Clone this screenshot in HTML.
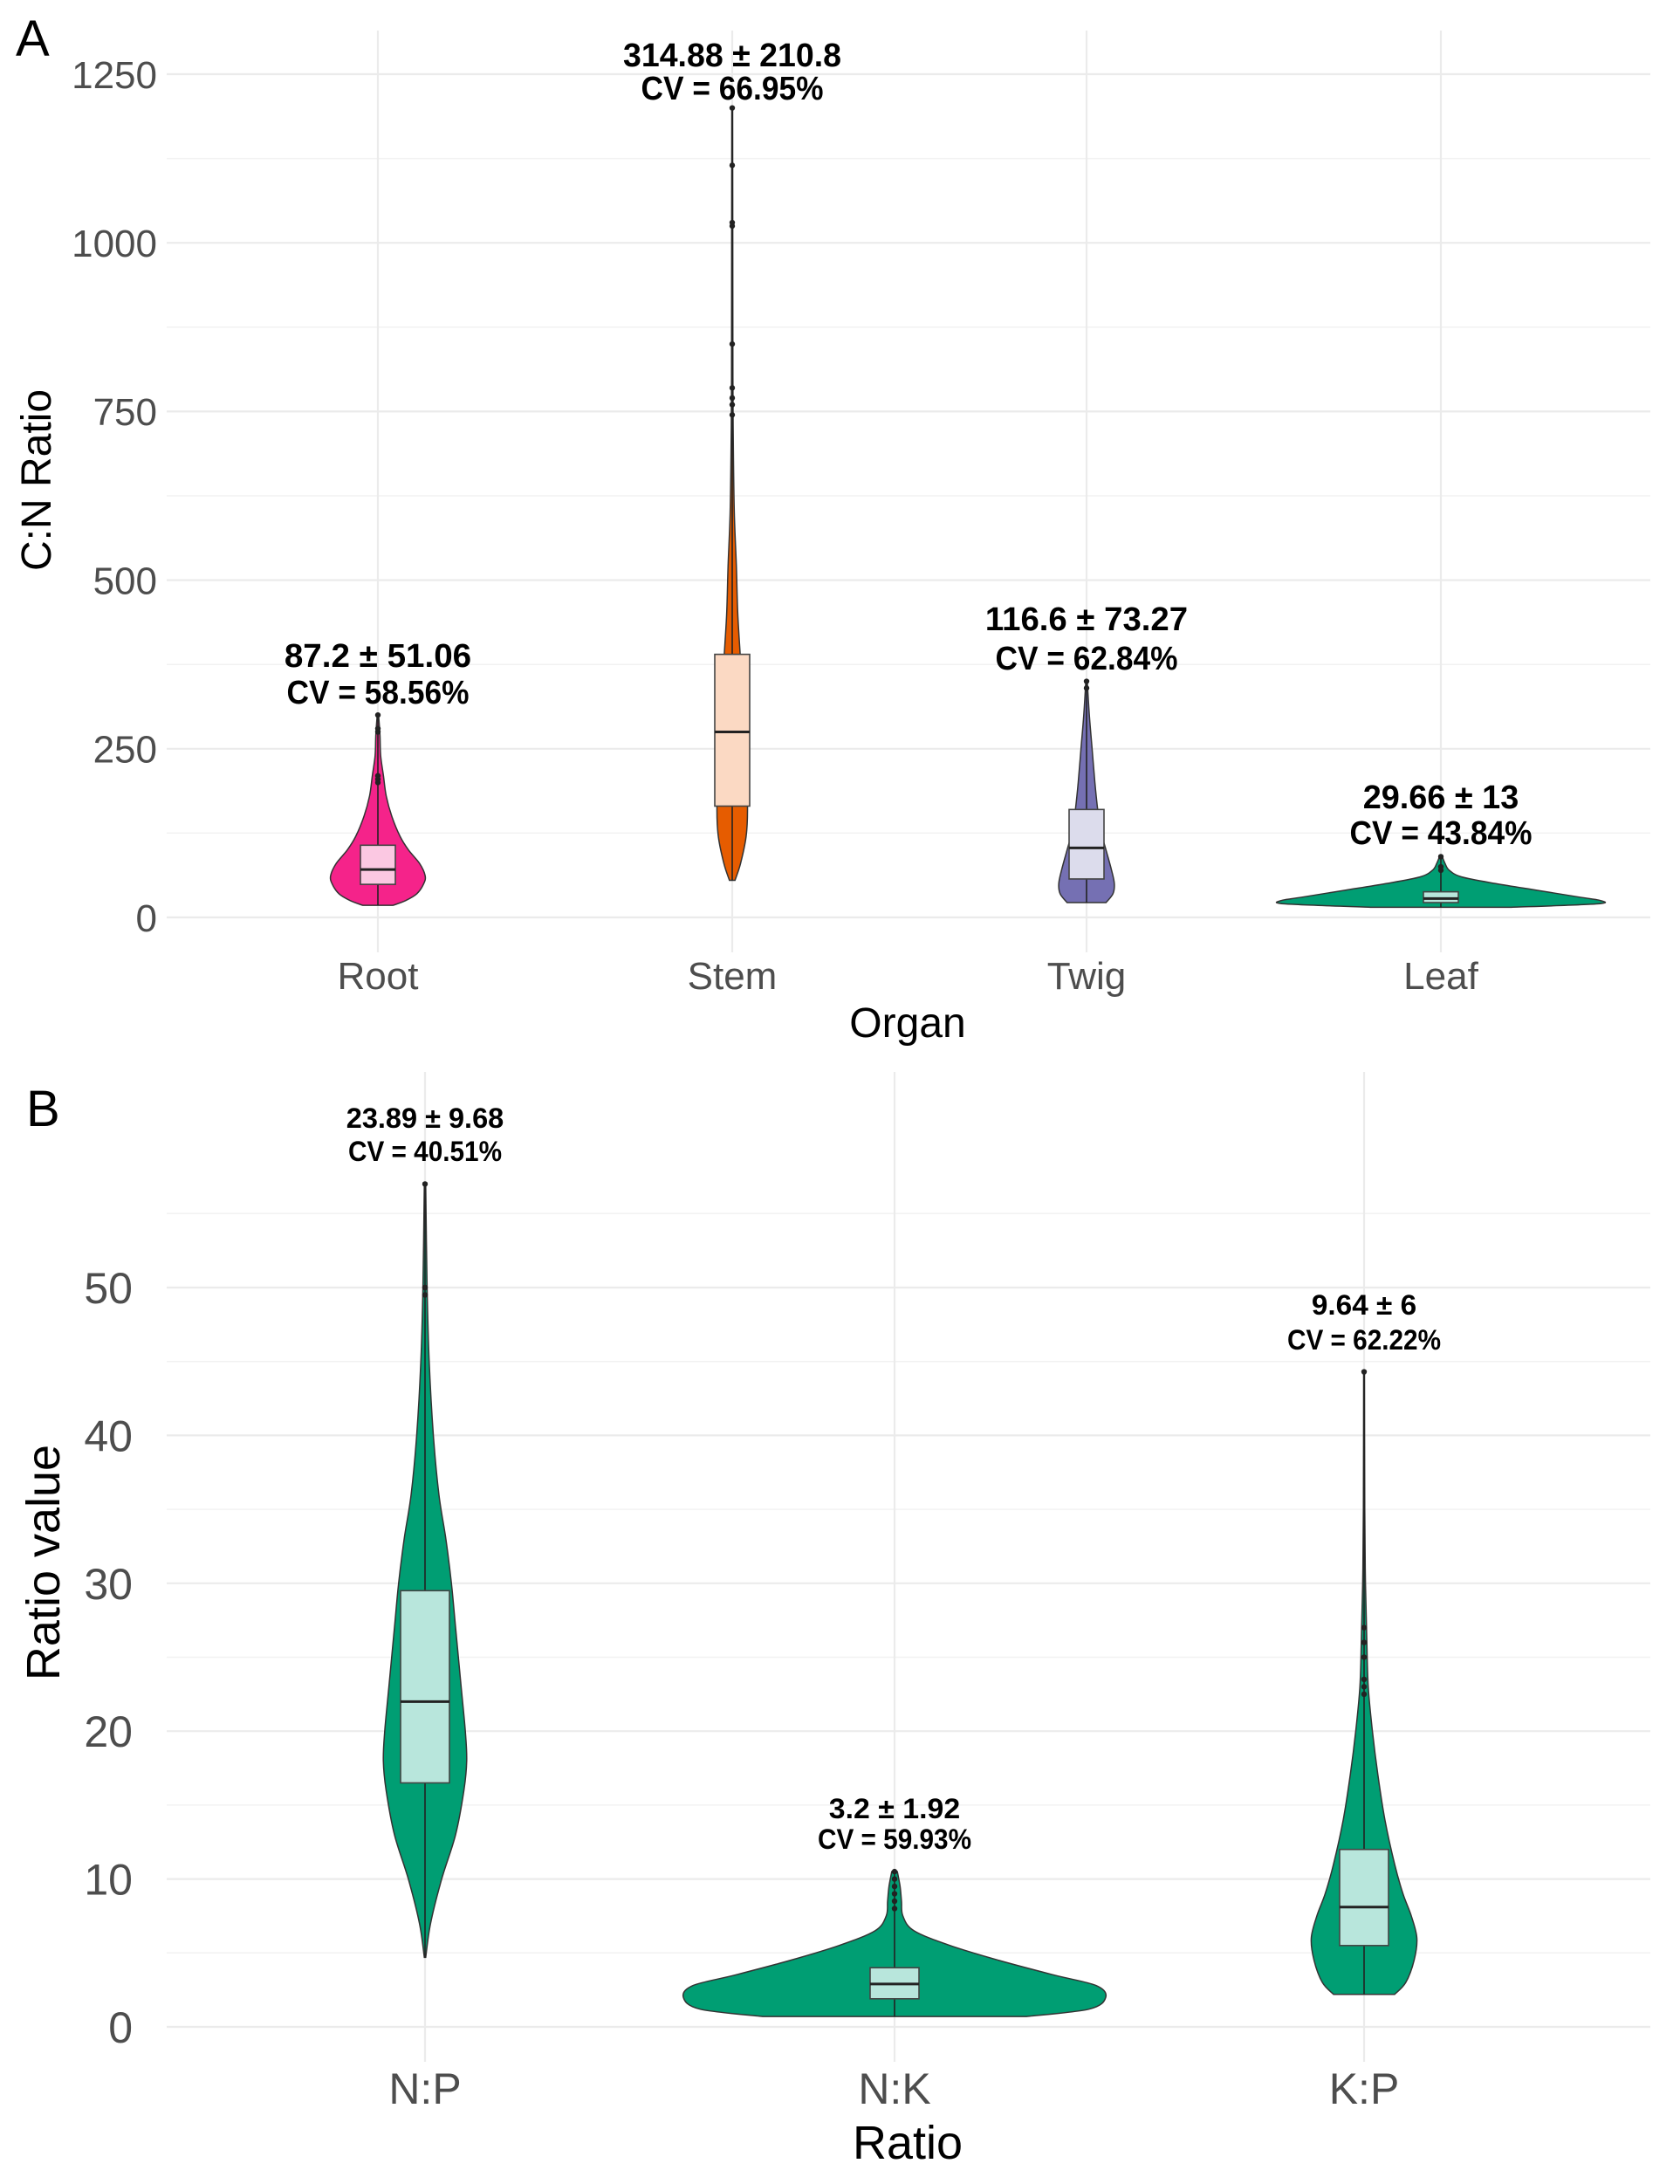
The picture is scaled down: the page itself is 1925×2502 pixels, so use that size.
<!DOCTYPE html>
<html><head><meta charset="utf-8"><style>
html,body{margin:0;padding:0;background:#fff;}
svg{display:block;}
text{font-family:"Liberation Sans",sans-serif;}
</style></head><body>
<svg id="fig" width="1925" height="2502" viewBox="0 0 1925 2502" xmlns="http://www.w3.org/2000/svg"></svg>
<script>
// ---------- Panel A data ----------
const catsA = ["Root","Stem","Twig","Leaf"];
const colorsA = ["#f5238a","#e65c00","#7570b3","#009e73"];
const boxColorsA = ["#fbc8e2","#fbd9c3","#dcdcec","#b8e6dc"];
const meanA = ["87.2 ± 51.06","314.88 ± 210.8","116.6 ± 73.27","29.66 ± 13"];
const cvA = ["CV = 58.56%","CV = 66.95%","CV = 62.84%","CV = 43.84%"];
const q1A = [49,165,57,22];
const medA = [71,275,103,28];
const q3A = [107,390,160,38];
const minA = [18,55,22,15];
const maxA = [300,1200,350,90];
const densRoot = [[18,11],[25,20],[35,28],[50,33],[62,34],[80,30],[100,22],[120,16],[150,10],[180,6],[210,4],[240,2],[270,1.5],[300,0.5]];
const densStem = [[55,2],[80,6],[120,10],[160,11],[220,10],[300,8],[380,6],[450,4],[520,3],[600,1.5],[700,0.8],[800,0.5],[1000,0.4],[1200,0.3]];
const densTwig = [[22,14],[35,19],[50,20],[70,18],[100,14],[130,10],[160,8],[200,6],[250,4],[300,2],[350,0.5]];
const densLeaf = [[15,50],[20,112],[25,115],[30,100],[40,70],[50,40],[60,15],[70,6],[80,3],[90,1]];
const outA = [[300,280,275,210,205,200],[1200,1115,1030,1025,850,785,770,760,745],[350,340],[90,75,70]];
const ticksA = [0,250,500,750,1000,1250];
// ---------- Panel B data ----------
const catsB = ["N:P","N:K","K:P"];
const meanB = ["23.89 ± 9.68","3.2 ± 1.92","9.64 ± 6"];
const cvB = ["CV = 40.51%","CV = 59.93%","CV = 62.22%"];
const q1B = [16.5,1.9,5.5];
const medB = [22,2.9,8.1];
const q3B = [29.5,4,12];
const minB = [4.7,0.7,2.2];
const maxB = [57,10.5,44.3];
const densNP = [[4.7,0.5],[7,4],[10,12],[13,22],[16,28],[18,30],[20,29],[23,26],[27,22],[30,19],[33,15],[36,10],[40,6],[45,3],[50,1.5],[57,0.5]];
const densNK = [[0.7,95],[1.2,140],[2,152],[2.8,145],[3.5,115],[4.5,75],[5.5,40],[6.5,14],[7.5,6],[8.5,5],[9.5,4],[10.5,2]];
const densKP = [[2.2,22],[3,30],[4.5,36],[6,38],[7.5,34],[9,28],[11,22],[14,15],[17,10],[20,6],[23,3],[26,2],[30,1],[35,0.5],[44.3,0.3]];
const outB = [[57,50,49.5],[10.5,10,9.5,9,8.5,8],[44.3,27,26,25,23.5,23,22.5]];
const ticksB = [0,10,20,30,40,50];

const svg = document.getElementById('fig');
const NS = "http://www.w3.org/2000/svg";
function el(tag, attrs, parent){const e=document.createElementNS(NS,tag);for(const k in attrs)e.setAttribute(k,attrs[k]);(parent||svg).appendChild(e);return e;}
function txt(str, attrs, parent){const e=el('text',attrs,parent);e.textContent=str;return e;}
const K = 1.592; // density width scale
const X0=191, X1=1891;
// axis functions
const yA = v => 1051 - v*0.7728;
const xA = i => 433 + i*406;
const yB = v => 2322 - v*16.94;
const xB = i => 487 + i*538;

function smoothPath(pts){
  let d="M"+pts[0][0]+","+pts[0][1];
  for(let i=0;i<pts.length-1;i++){
    const p0=pts[Math.max(0,i-1)],p1=pts[i],p2=pts[i+1],p3=pts[Math.min(pts.length-1,i+2)];
    const c1=[p1[0]+(p2[0]-p0[0])/6,p1[1]+(p2[1]-p0[1])/6];
    const c2=[p2[0]-(p3[0]-p1[0])/6,p2[1]-(p3[1]-p1[1])/6];
    d+=` C${c1[0]},${c1[1]} ${c2[0]},${c2[1]} ${p2[0]},${p2[1]}`;
  }
  return d;
}
function violin(g, cx, ys, dens, color){
  const right=dens.map(p=>[cx+p[1]*K, ys(p[0])]);
  const left=dens.map(p=>[cx-p[1]*K, ys(p[0])]).reverse();
  let d=smoothPath(right);
  d+=" L"+left[0][0]+","+left[0][1]+smoothPath(left).replace(/^M[^C]*/," ")+" Z";
  const p=el('path',{d:d,fill:color,stroke:"#333",'stroke-width':1.5},g);
  return p;
}

function panel(opts){
  const g=el('g',{});
  
  
  const grid=el('g',{},g);
  
  
  opts.minor.forEach(v=>el('line',{x1:X0,x2:X1,y1:opts.ys(v),y2:opts.ys(v),stroke:"#f2f2f2",'stroke-width':1.5},grid));
  opts.ticks.forEach(v=>el('line',{x1:X0,x2:X1,y1:opts.ys(v),y2:opts.ys(v),stroke:"#ebebeb",'stroke-width':2.2},grid));
  opts.cats.forEach((c,i)=>el('line',{x1:opts.xs(i),x2:opts.xs(i),y1:opts.gridTop,y2:opts.ys(opts.ticks[0])+40,stroke:"#ebebeb",'stroke-width':2.2},grid));
  opts.ticks.forEach(v=>{const t=txt(String(v),{x:opts.tickX,y:opts.ys(v)+opts.tickFs*0.36,'text-anchor':'end','font-size':opts.tickFs,fill:'#4d4d4d'},g);
    
    });
  opts.cats.forEach((c,i)=>{const t=txt(c,{x:opts.xs(i),y:opts.catY,'text-anchor':'middle','font-size':opts.tickFs,fill:'#4d4d4d'},g);
    
    
    const vg=el('g',{},g);
    
    
    const cx=opts.xs(i);
    violin(vg,cx,opts.ys,opts.dens[i],opts.colors[i]);
    el('line',{x1:cx,x2:cx,y1:opts.ys(opts.min[i]),y2:opts.ys(opts.max[i]),stroke:"#222",'stroke-width':1.6},vg);
    const bw=opts.boxW;
    el('rect',{x:cx-bw,y:opts.ys(opts.q3[i]),width:2*bw,height:opts.ys(opts.q1[i])-opts.ys(opts.q3[i]),fill:opts.boxColors[i],stroke:"#444",'stroke-width':1.6},vg);
    el('line',{x1:cx-bw,x2:cx+bw,y1:opts.ys(opts.med[i]),y2:opts.ys(opts.med[i]),stroke:"#222",'stroke-width':3},vg);
    opts.out[i].forEach(v=>el('circle',{cx:cx,cy:opts.ys(v),r:3.2,fill:"#222"},vg));
    const a1=txt(opts.mean[i],{x:cx,y:opts.annY1[i],'text-anchor':'middle','font-size':opts.annFs,'font-weight':'bold',fill:'#000',textLength:opts.mean[i].length*opts.annFs*0.47,lengthAdjust:'spacingAndGlyphs'},g);
    
    
    const a2=txt(opts.cv[i],{x:cx,y:opts.annY2[i],'text-anchor':'middle','font-size':opts.annFs,'font-weight':'bold',fill:'#000',textLength:opts.cv[i].length*opts.annFs*0.5,lengthAdjust:'spacingAndGlyphs'},g);
    
    
  });
  const xt=txt(opts.xTitle,{x:1040,y:opts.xTitleY,'text-anchor':'middle','font-size':opts.titleFs,fill:'#000'},g);
  
  
  const yt=txt(opts.yTitle,{x:0,y:0,'text-anchor':'middle','font-size':opts.titleFs,fill:'#000',transform:`translate(${opts.yTitleX},${opts.yTitleY}) rotate(-90)`},g);
  
  
  const pl=txt(opts.letter,{x:opts.letterX,y:opts.letterY,'font-size':58,fill:'#000'},g);
  
  
}

panel({name:'panel-a',cats:catsA,xs:xA,ys:yA,ticks:ticksA,minor:[125,375,625,875,1125],gridTop:35,
  tickX:180,tickFs:44,catY:1133,dens:[densRoot,densStem,densTwig,densLeaf],colors:colorsA,boxColors:boxColorsA,
  min:minA,max:maxA,q1:q1A,q3:q3A,med:medA,out:outA,boxW:20,mean:meanA,cv:cvA,
  annY1:[764,76,722,926],annY2:[806,114,767,967],annFs:38,
  xTitle:'Organ',xTitleY:1188,yTitle:'C:N Ratio',yTitleX:58,yTitleY:550,titleFs:48,letter:'A',letterX:18,letterY:64});
panel({name:'panel-b',cats:catsB,xs:xB,ys:yB,ticks:ticksB,minor:[5,15,25,35,45,55],gridTop:1228,
  tickX:152,tickFs:50,catY:2410,dens:[densNP,densNK,densKP],colors:["#009e73","#009e73","#009e73"],boxColors:["#b8e6dc","#b8e6dc","#b8e6dc"],
  min:minB,max:maxB,q1:q1B,q3:q3B,med:medB,out:outB,boxW:28,mean:meanB,cv:cvB,
  annY1:[1292,2083,1506],annY2:[1330,2118,1546],annFs:32,
  xTitle:'Ratio',xTitleY:2473,yTitle:'Ratio value',yTitleX:68,yTitleY:1790,titleFs:54,letter:'B',letterX:30,letterY:1290});
</script>
</body></html>
